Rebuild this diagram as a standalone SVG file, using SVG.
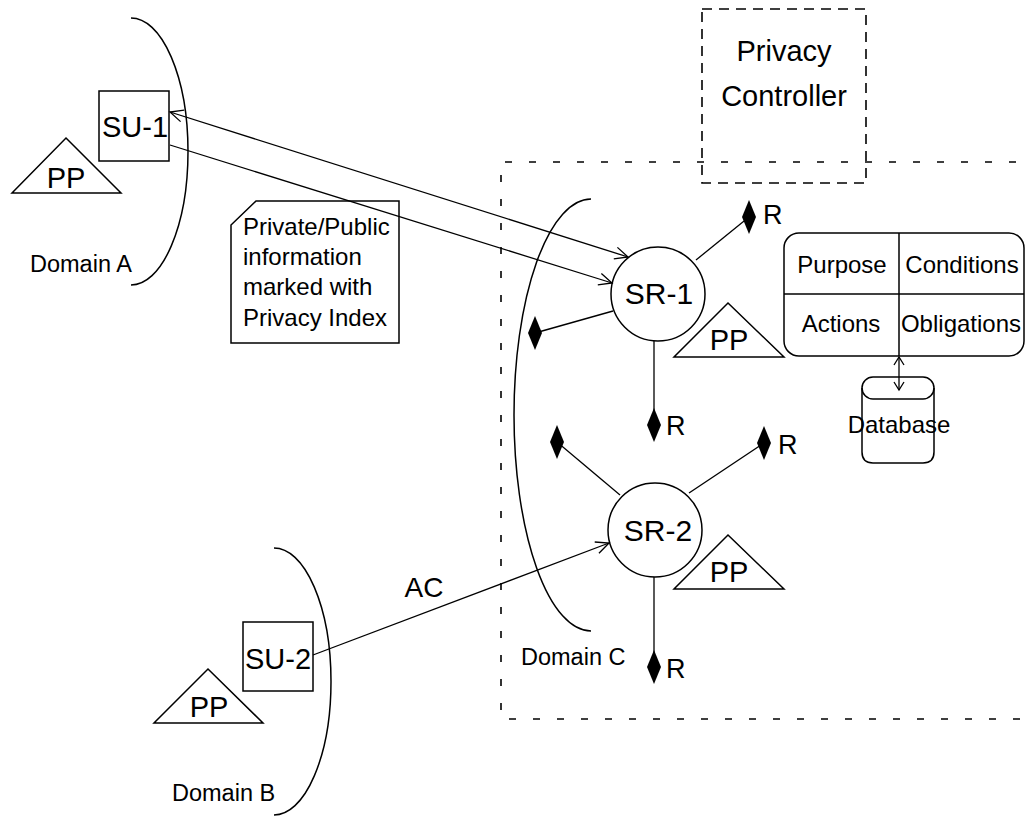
<svg xmlns="http://www.w3.org/2000/svg" width="1032" height="816" viewBox="0 0 1032 816">
  <style>
    text { font-family: "Liberation Sans", Arial, sans-serif; fill: #000; }
    .lbl { font-size: 29px; text-anchor: middle; }
    .dom { font-size: 23.5px; }
    .cell { font-size: 24px; text-anchor: middle; }
    .note { font-size: 24px; }
    .r { font-size: 27px; }
    .box { fill: #fff; stroke: #000; stroke-width: 1.5; }
    .shape { fill: none; stroke: #000; stroke-width: 1.5; }
    .wire { fill: none; stroke: #000; stroke-width: 1.3; }
    .dash-big { fill: none; stroke: #000; stroke-width: 1.6; stroke-dasharray: 7 17; }
    .dash-pc { fill: none; stroke: #000; stroke-width: 1.6; stroke-dasharray: 10 7; }
  </style>
  <defs>
    <marker id="open" viewBox="-15 -8 17 16" refX="0" refY="0" markerWidth="17" markerHeight="16" markerUnits="userSpaceOnUse" orient="auto-start-reverse" overflow="visible">
      <path d="M-13,-6 L0,0 L-13,6" fill="none" stroke="#000" stroke-width="1.3"/>
    </marker>
    <marker id="small" viewBox="-10 -6 12 12" refX="0" refY="0" markerWidth="12" markerHeight="12" markerUnits="userSpaceOnUse" orient="auto-start-reverse" overflow="visible">
      <path d="M-8,-5 L0,0 L-8,5" fill="none" stroke="#000" stroke-width="1.3"/>
    </marker>
    <path id="dm" d="M0,-17 L7,0 L0,17 L-7,0Z" fill="#000"/>
  </defs>

  <rect x="0" y="0" width="1032" height="816" fill="#fff"/>

  <!-- domain boundaries -->
  <g id="domain-c-zone">
    <path class="dash-big" d="M1040,162 H501 V719 H1040"/>
  </g>
  <g id="domain-a">
    <path class="shape" d="M131,18 A57,133.5 0 0 1 131,285"/>
    <text class="dom" x="30" y="272">Domain A</text>
  </g>
  <g id="domain-b">
    <path class="shape" d="M274,548 A57,133.5 0 0 1 274,815"/>
    <text class="dom" x="172" y="801">Domain B</text>
  </g>
  <g id="domain-c">
    <path class="shape" d="M591,199 A77,216 0 0 0 591,631"/>
    <text class="dom" x="521" y="665">Domain C</text>
  </g>

  <!-- connectors -->
  <g id="connectors">
    <line class="wire" x1="170" y1="112" x2="628" y2="257" marker-start="url(#open)" marker-end="url(#open)"/>
    <line class="wire" x1="170" y1="145" x2="612" y2="283" marker-end="url(#open)"/>
    <line class="wire" x1="313" y1="655" x2="609" y2="543" marker-end="url(#open)"/>
    <text class="lbl" x="424" y="597" style="font-size:28px">AC</text>

    <!-- SR-1 spokes -->
    <line class="wire" x1="696" y1="260" x2="749" y2="217"/>
    <line class="wire" x1="613" y1="311" x2="535" y2="333"/>
    <line class="wire" x1="654" y1="341" x2="654" y2="425"/>
    <!-- SR-2 spokes -->
    <line class="wire" x1="620" y1="495" x2="557" y2="442"/>
    <line class="wire" x1="689" y1="493" x2="764" y2="443"/>
    <line class="wire" x1="654" y1="577" x2="654" y2="667"/>

    <!-- policy table to database -->
    <line class="wire" x1="899" y1="357" x2="899" y2="390" marker-start="url(#small)" marker-end="url(#small)"/>
  </g>

  <!-- resource endpoints -->
  <g id="resources">
    <use href="#dm" x="749" y="217"/>
    <text class="r" x="763" y="224">R</text>
    <use href="#dm" x="535" y="333"/>
    <use href="#dm" x="654" y="425"/>
    <text class="r" x="666" y="435">R</text>
    <use href="#dm" x="557" y="442"/>
    <use href="#dm" x="764" y="443"/>
    <text class="r" x="778" y="454">R</text>
    <use href="#dm" x="654" y="667"/>
    <text class="r" x="666" y="678">R</text>
  </g>

  <g id="su-1">
    <rect class="shape" x="99" y="91" width="70" height="70"/>
    <text class="lbl" x="135" y="137">SU-1</text>
  </g>
  <g id="pp-a">
    <polygon class="shape" points="66,138 121,193 12,193"/>
    <text class="lbl" x="66" y="188">PP</text>
  </g>

  <g id="su-2">
    <rect class="shape" x="243" y="622" width="70" height="69"/>
    <text class="lbl" x="278" y="669">SU-2</text>
  </g>
  <g id="pp-b">
    <polygon class="shape" points="208,669 263,723 154,723"/>
    <text class="lbl" x="209" y="717">PP</text>
  </g>

  <g id="sr-1">
    <circle class="shape" cx="658" cy="294" r="47"/>
    <text class="lbl" x="659" y="304" style="font-size:30px">SR-1</text>
  </g>
  <g id="pp-sr1">
    <polygon class="shape" points="728,303 784,357 674,357"/>
    <text class="lbl" x="729" y="350">PP</text>
  </g>

  <g id="sr-2">
    <circle class="shape" cx="655" cy="530" r="47"/>
    <text class="lbl" x="658" y="541" style="font-size:30px">SR-2</text>
  </g>
  <g id="pp-sr2">
    <polygon class="shape" points="728,535 784,589 674,589"/>
    <text class="lbl" x="729" y="582">PP</text>
  </g>

  <g id="privacy-note">
    <polygon class="shape" points="256,201 399,201 399,343 231,343 231,225"/>
    <text class="note" x="243" y="235">Private/Public</text>
    <text class="note" x="243" y="265">information</text>
    <text class="note" x="243" y="295">marked with</text>
    <text class="note" x="243" y="326">Privacy Index</text>
  </g>

  <g id="privacy-controller">
    <rect class="dash-pc" x="702" y="9" width="164" height="174"/>
    <text class="lbl" x="784" y="61">Privacy</text>
    <text class="lbl" x="784" y="106">Controller</text>
  </g>

  <g id="policy-table">
    <rect class="shape" x="784" y="233" width="240" height="123" rx="15"/>
    <line class="shape" x1="899" y1="233" x2="899" y2="356"/>
    <line class="shape" x1="784" y1="294" x2="1024" y2="294"/>
    <text class="cell" x="842" y="273">Purpose</text>
    <text class="cell" x="962" y="273">Conditions</text>
    <text class="cell" x="841" y="332">Actions</text>
    <text class="cell" x="961" y="332">Obligations</text>
  </g>

  <g id="database">
    <rect class="shape" x="862" y="377" width="72" height="22" rx="11"/>
    <path class="shape" d="M862,388 V452 Q862,463 873,463 H923 Q934,463 934,452 V388"/>
    <text class="cell" x="899" y="433">Database</text>
  </g>
</svg>
